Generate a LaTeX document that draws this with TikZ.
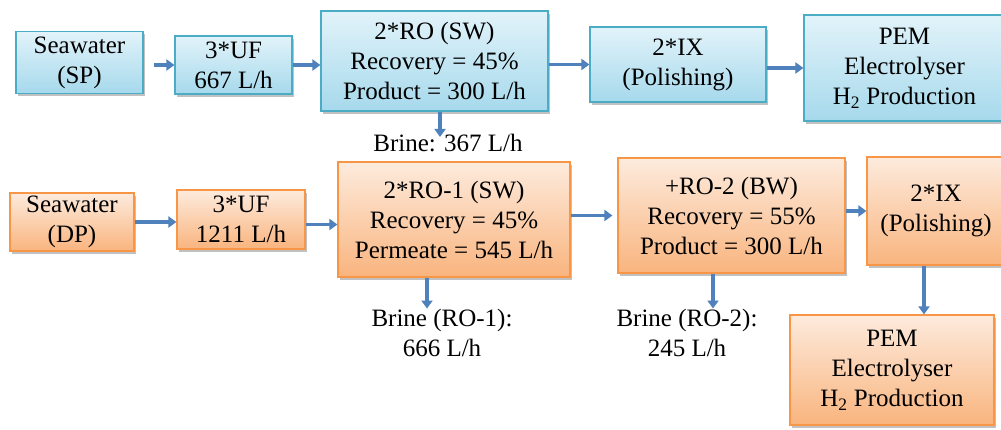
\documentclass[tikz,border=0pt]{standalone}
\usepackage{fontspec}
\setmainfont{Liberation Serif}
\usepackage{xcolor}
\usetikzlibrary{shapes,arrows.meta,shadows}
\definecolor{blueline}{HTML}{4BACC6}
\definecolor{bluetop}{HTML}{E2F3FA}
\definecolor{bluebot}{HTML}{A6D9EC}
\definecolor{orangeline}{HTML}{F79646}
\definecolor{orangetop}{HTML}{FDEBDD}
\definecolor{orangebot}{HTML}{F9B47E}
\definecolor{arrowblue}{HTML}{4F81BD}
\tikzstyle{blueblock} = [rectangle, draw=blueline, line width=1.2pt,
    top color=bluetop, bottom color=bluebot, align=center, inner sep=0pt,
    drop shadow={shadow xshift=2pt, shadow yshift=-2.5pt, opacity=0.4, fill=black!60}]
\tikzstyle{orangeblock} = [rectangle, draw=orangeline, line width=1.2pt,
    top color=orangetop, bottom color=orangebot, align=center, inner sep=0pt,
    drop shadow={shadow xshift=2pt, shadow yshift=-2.5pt, opacity=0.4, fill=black!60}]
\tikzstyle{brinetext} = [align=center, inner sep=0pt]
\tikzstyle{arrow} = [draw=arrowblue, line width=3.2pt, -{Triangle[length=8pt,width=11pt]}]

\begin{document}
\begin{tikzpicture}[x=1pt, y=-1pt, font=\rmfamily\fontsize{25}{30}\selectfont]
    \useasboundingbox [fill=white] (0,0) rectangle (1001,429);
    % Place nodes (SP line)
    \node [blueblock, minimum width=127pt, minimum height=62pt] (seaSP) at (79.5,62.5) {Seawater\\(SP)};
    \node [blueblock, minimum width=117pt, minimum height=58pt] (ufSP) at (233.5,65) {3*UF\\667 L/h};
    \node [blueblock, minimum width=227pt, minimum height=100pt] (roSP) at (434.5,61) {2*RO (SW)\\Recovery = 45\%\\Product = 300 L/h};
    \node [blueblock, minimum width=176pt, minimum height=75pt] (ixSP) at (678,64.5) {2*IX\\(Polishing)};
    \node [blueblock, minimum width=201pt, minimum height=106pt] (pemSP) at (904.5,68) {PEM\\Electrolyser\\H\textsubscript{2} Production};
    \node [brinetext] (brineSP) at (448,143) {Brine: 367 L/h};
    % Place nodes (DP line)
    \node [orangeblock, minimum width=124pt, minimum height=58pt] (seaDP) at (72,222) {Seawater\\(DP)};
    \node [orangeblock, minimum width=128pt, minimum height=59pt] (ufDP) at (241,219.5) {3*UF\\1211 L/h};
    \node [orangeblock, minimum width=232pt, minimum height=115pt] (roOne) at (454,219.5) {2*RO-1 (SW)\\Recovery = 45\%\\Permeate = 545 L/h};
    \node [orangeblock, minimum width=227pt, minimum height=115pt] (roTwo) at (731.5,215.5) {+RO-2 (BW)\\Recovery = 55\%\\Product = 300 L/h};
    \node [orangeblock, minimum width=138pt, minimum height=108pt] (ixDP) at (936,211) {2*IX\\(Polishing)};
    \node [orangeblock, minimum width=204pt, minimum height=110pt] (pemDP) at (892,370) {PEM\\Electrolyser\\H\textsubscript{2} Production};
    \node [brinetext] (brineOne) at (442,332.5) {Brine (RO-1):\\666 L/h};
    \node [brinetext] (brineTwo) at (687,332.5) {Brine (RO-2):\\245 L/h};

    \path [arrow, shorten <=10pt] (seaSP.east |- ufSP.west) -- (ufSP.west);
    \path [arrow] (ufSP.east) -- (ufSP.east -| roSP.west);
    \path [arrow] (roSP.east |- ixSP.west) -- (ixSP.west);
    \path [arrow] (ixSP.east |- pemSP.west) -- (pemSP.west);
    \path [arrow, shorten >=-3pt] ([xshift=5.5pt]roSP.south) -- ([xshift=5.5pt]roSP.south |- brineSP.north);

    \path [arrow] (seaDP.east) -- (seaDP.east -| ufDP.west);
    \path [arrow] ([yshift=-5pt]ufDP.east) -- ([yshift=-5pt]ufDP.east -| roOne.west);
    \path [arrow, shorten >=5pt] (roOne.east |- roTwo.west) -- (roTwo.west);
    \path [arrow] (roTwo.east |- ixDP.west) -- (ixDP.west);
    \path [arrow] ([xshift=-12pt]ixDP.south) -- ([xshift=-12pt]ixDP.south |- pemDP.north);
    \path [arrow] ([xshift=-27pt]roOne.south) -- ([xshift=-27pt]roOne.south |- brineOne.north);
    \path [arrow] ([xshift=-18.5pt]roTwo.south) -- ([xshift=-18.5pt]roTwo.south |- brineTwo.north);
  \end{tikzpicture}
\end{document}
